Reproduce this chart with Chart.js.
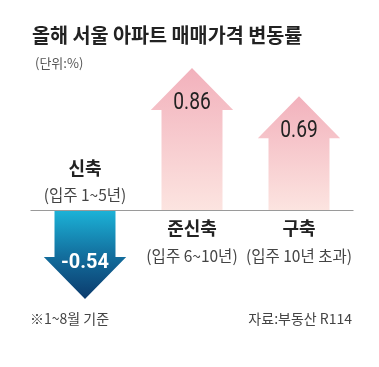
<!DOCTYPE html>
<html>
<head>
<meta charset="utf-8">
<script src="https://cdn.jsdelivr.net/npm/chart.js@4.4.1/dist/chart.umd.min.js"></script>
<style>
  html, body { margin: 0; padding: 0; background: #fff; }
  #wrap { width: 379px; height: 367px; }
</style>
</head>
<body>
<div id="wrap"><canvas id="chart" width="379" height="367"></canvas></div>
<script>
// 데이터
const categories = ['신축', '준신축', '구축'];
const periods = ['(입주 1~5년)', '(입주 6~10년)', '(입주 10년 초과)'];
const values = [-0.54, 0.86, 0.69];
const valueLabels = ['-0.54', '0.86', '0.69'];

const KR = '"Noto Sans CJK KR", "Noto Sans", sans-serif';
const NUM = 'Roboto, "Noto Sans", sans-serif';

// 글자 그리기 (가로 폭 압축 포함)
function txt(ctx, s, x, y, font, color, align, sx) {
  ctx.save();
  ctx.font = font;
  ctx.fillStyle = color;
  ctx.textBaseline = 'middle';
  ctx.textAlign = align || 'center';
  ctx.translate(x, y);
  ctx.scale(sx || 1, 1);
  ctx.fillText(s, 0, 0);
  ctx.restore();
}

const arrowPlugin = {
  id: 'arrows',
  afterDatasetsDraw(chart) {
    const ctx = chart.ctx;
    const meta = chart.getDatasetMeta(0);
    const zero = chart.scales.y.getPixelForValue(0);
    meta.data.forEach((bar, i) => {
      const { x, y, base, width } = bar.getProps(['x', 'y', 'base', 'width'], true);
      const up = values[i] >= 0;
      const head = 42;
      const sw = width / 2, hw = width * 1.35 / 2;
      const neck = up ? y + head : y - head;
      let grad;
      if (up) {
        grad = ctx.createLinearGradient(0, y, 0, base);
        grad.addColorStop(0, '#f2b1bc');
        grad.addColorStop(1, '#fce4e0');
      } else {
        grad = ctx.createLinearGradient(0, base, 0, y);
        grad.addColorStop(0, '#1cb3d8');
        grad.addColorStop(0.5, '#13709f');
        grad.addColorStop(1, '#0b3a6c');
      }
      ctx.save();
      ctx.fillStyle = grad;
      ctx.beginPath();
      ctx.moveTo(x - sw, base);
      ctx.lineTo(x - sw, neck);
      ctx.lineTo(x - hw, neck);
      ctx.lineTo(x, y);
      ctx.lineTo(x + hw, neck);
      ctx.lineTo(x + sw, neck);
      ctx.lineTo(x + sw, base);
      ctx.closePath();
      ctx.fill();
      ctx.restore();

      if (up) {
        txt(ctx, valueLabels[i], x, y + 35, '400 24px ' + NUM, '#222', 'center', 0.8);
        txt(ctx, categories[i], x, zero + 18, '700 18px ' + KR, '#222', 'center', 1);
        txt(ctx, periods[i], x, zero + 46, '400 16px ' + KR, '#444', 'center', 0.97);
      } else {
        txt(ctx, valueLabels[i], x, y - 36, '700 21px ' + NUM, '#fff', 'center', 0.95);
        txt(ctx, categories[i], x, zero - 42, '700 18px ' + KR, '#222', 'center', 1);
        txt(ctx, periods[i], x, zero - 15, '400 16px ' + KR, '#444', 'center', 0.97);
      }
    });

    // 기준선
    const area = chart.chartArea;
    ctx.save();
    ctx.strokeStyle = '#9a9a9a';
    ctx.lineWidth = 1;
    ctx.beginPath();
    ctx.moveTo(area.left - 1, Math.round(zero) + 0.5);
    ctx.lineTo(area.right + 1, Math.round(zero) + 0.5);
    ctx.stroke();
    ctx.restore();

    // 제목, 단위, 출처
    txt(ctx, '올해 서울 아파트 매매가격 변동률', 32, 35, '700 20px ' + KR, '#222', 'left', 0.98);
    txt(ctx, '(단위:%)', 35, 63, '400 13px ' + KR, '#555', 'left', 1);
    txt(ctx, '※1~8월 기준', 30, 319, '400 14px ' + KR, '#444', 'left', 1);
    txt(ctx, '자료:부동산 R114', 352, 319, '400 14px ' + KR, '#444', 'right', 1);
  }
};

const ctx = document.getElementById('chart').getContext('2d');
const chart = new Chart(ctx, {
  type: 'bar',
  data: {
    labels: categories,
    datasets: [{
      data: values,
      backgroundColor: 'rgba(0,0,0,0)',
      borderWidth: 0,
      barPercentage: 0.57,
      categoryPercentage: 1
    }]
  },
  options: {
    responsive: false,
    animation: false,
    layout: { padding: { top: 45, bottom: 58, left: 31.5, right: 26.5 } },
    scales: {
      x: { display: false },
      y: { display: false, min: -0.6, max: 1.0 }
    },
    plugins: {
      legend: { display: false },
      tooltip: { enabled: false }
    }
  },
  plugins: [arrowPlugin]
});
</script>
</body>
</html>
